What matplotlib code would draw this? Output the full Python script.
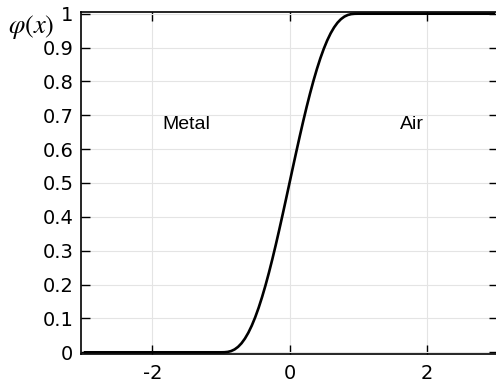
import matplotlib
matplotlib.use("Agg")
import matplotlib.pyplot as plt

# Curve samples (smoothed step)
x_vals = [-3.0, -1.0, -0.95, -0.9, -0.85, -0.8, -0.75, -0.7, -0.65, -0.6, -0.55, -0.5,
          -0.45, -0.4, -0.35, -0.3, -0.25, -0.2, -0.15, -0.1, -0.05, 0.0,
          0.05, 0.1, 0.15, 0.2, 0.25, 0.3, 0.35, 0.4, 0.45, 0.5,
          0.55, 0.6, 0.65, 0.7, 0.75, 0.8, 0.85, 0.9, 0.95, 1.0, 3.0]
phi_vals = [0.0, 0.0, 0.0002, 0.0012, 0.0038, 0.0086, 0.0161, 0.0266, 0.0405, 0.0579, 0.0789, 0.1035,
            0.1316, 0.1631, 0.1977, 0.2352, 0.2752, 0.3174, 0.3615, 0.4069, 0.4532, 0.5,
            0.5468, 0.5931, 0.6385, 0.6826, 0.7248, 0.7648, 0.8023, 0.8369, 0.8684, 0.8965,
            0.9211, 0.9421, 0.9595, 0.9734, 0.9839, 0.9914, 0.9962, 0.9988, 0.9998, 1.0, 1.0]

x_ticks = [-2, 0, 2]
x_tick_labels = ["-2", "0", "2"]
y_ticks = [0, 0.1, 0.2, 0.3, 0.4, 0.5, 0.6, 0.7, 0.8, 0.9, 1]
y_tick_labels = ["0", "0.1", "0.2", "0.3", "0.4", "0.5", "0.6", "0.7", "0.8", "0.9", "1"]

region_labels = ["Metal", "Air"]
region_x = [-1.50, 1.79]
region_y = [0.672, 0.672]

plt.rcParams["mathtext.fontset"] = "stix"

fig = plt.figure(figsize=(4.96, 3.88), dpi=100)
ax = fig.add_axes([81/496, 34/388, 417/496, 342/388])

ax.plot(x_vals, phi_vals, color="black", lw=1.9, solid_capstyle="butt")
ax.set_xlim(-3.04, 3.04)
ax.set_ylim(-0.005, 1.005)

ax.set_xticks(x_ticks)
ax.set_xticklabels(x_tick_labels)
ax.set_yticks(y_ticks)
ax.set_yticklabels(y_tick_labels)
ax.tick_params(direction="in", length=6.5, width=1.0, top=True, right=True,
               labelsize=14, pad=5.5, colors="black")
ax.tick_params(axis="x", pad=7)
ax.grid(True, color="#e4e4e4", lw=0.8)
ax.set_axisbelow(True)
for s in ax.spines.values():
    s.set_linewidth(1.2)
    s.set_color("black")

for lab, xx, yy in zip(region_labels, region_x, region_y):
    ax.text(xx, yy, lab, ha="center", va="center", fontsize=14,
            family="Liberation Sans", color="black")

fig.text(31/496, 1 - 27/388, r"$\varphi(x)$", ha="center", va="center", fontsize=19)

fig.savefig("out.png", dpi=100)
